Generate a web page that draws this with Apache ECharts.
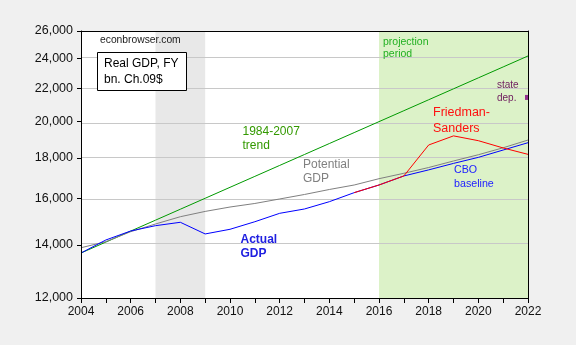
<!DOCTYPE html>
<html>
<head>
<meta charset="utf-8">
<script src="https://cdn.jsdelivr.net/npm/echarts@6/dist/echarts.min.js"></script>
<style>
  html, body { margin: 0; padding: 0; background: #f0f0f0; }
  #chart { width: 576px; height: 345px; }
</style>
</head>
<body>
<div id="chart"></div>
<script>
// Fiscal years on the horizontal axis
const years = [2004, 2005, 2006, 2007, 2008, 2009, 2010, 2011, 2012, 2013, 2014,
               2015, 2016, 2017, 2018, 2019, 2020, 2021, 2022];
const actualYears = years.slice(0, 12);      // 2004-2015
const projYears = years.slice(11);           // 2015-2022

// Real GDP, bn. chained 2009 dollars
const actualGdp = [13670, 14195, 14570, 14796, 14942, 14446, 14642, 14966, 15335, 15529, 15860, 16280];
const potentialGdp = [13880, 14125, 14540, 14868, 15185, 15420, 15617, 15778, 15985, 16195, 16430,
                      16645, 16952, 17220, 17510, 17845, 18170, 18540, 18960];
const trend8407 = [13670, 14110, 14565, 15034, 15518, 16018, 16534, 17066, 17616, 18183, 18769,
                   19373, 19997, 20641, 21306, 21992, 22700, 23431, 24186];
const cboBaseline = [16280, 16646, 17087, 17390, 17720, 18032, 18420, 18815];
const friedmanSanders = [16280, 16646, 17087, 18690, 19190, 18925, 18530, 18190];
const stateDep = [[2022, 21450]];

// Shaded periods
const recession = [2007, 2009];
const projection = [2016, 2022];

// Log-scale tick labels
const yTicks = [12000, 14000, 16000, 18000, 20000, 22000, 24000, 26000];
const xMin = 2004, xMax = 2022;

const FONT = '"Liberation Sans", Arial, sans-serif';
const ln = Math.log;
const pairs = (xs, vs) => xs.map((x, i) => [x, ln(vs[i])]);

const chart = echarts.init(document.getElementById('chart'), null, { renderer: 'canvas' });

function lineSeries(name, xs, vs, color) {
  return {
    name, type: 'line', data: pairs(xs, vs), symbol: 'none', z: 2,
    lineStyle: { color, width: 1 }, silent: true
  };
}

function txt(text, x, y, size, color, weight) {
  return {
    type: 'text', x, y, silent: true, z: 10,
    style: {
      text, fill: color, font: (weight || 'normal') + ' ' + size + 'px ' + FONT,
      align: 'left', verticalAlign: 'middle'
    }
  };
}

const option = {
  animation: false,
  backgroundColor: '#f0f0f0',
  grid: {
    left: 81, right: 48, top: 31, bottom: 47,
    show: true, backgroundColor: '#ffffff', borderWidth: 0
  },
  xAxis: [{
    type: 'value', min: xMin, max: xMax, interval: 1, z: 5,
    axisLine: { show: true, lineStyle: { color: '#000', width: 1 } },
    axisTick: { show: true, length: 5, lineStyle: { color: '#000' } },
    axisLabel: {
      color: '#111', fontFamily: FONT, fontSize: 12, margin: 8,
      showMinLabel: true, showMaxLabel: true,
      formatter: v => (v % 2 === 0 ? String(v) : '')
    },
    splitLine: { show: false }
  }, {
    // top frame
    type: 'value', position: 'top', min: xMin, max: xMax, z: 5,
    axisLine: { show: true, onZero: false, lineStyle: { color: '#000', width: 1 } },
    axisTick: { show: false }, axisLabel: { show: false }, splitLine: { show: false }
  }],
  yAxis: [{
    type: 'value', min: ln(12000), max: ln(26000), z: 5,
    axisLine: { show: true, onZero: false, lineStyle: { color: '#000', width: 1 } },
    axisTick: { show: true, length: 4, lineStyle: { color: '#000' }, customValues: yTicks.map(ln) },
    axisLabel: {
      color: '#111', fontFamily: FONT, fontSize: 12.5, margin: 8,
      customValues: yTicks.map(ln),
      formatter: v => Math.round(Math.exp(v)).toLocaleString('en-US')
    },
    splitLine: { show: false }
  }, {
    // right frame
    type: 'value', position: 'right', min: ln(12000), max: ln(26000), z: 5,
    axisLine: { show: true, onZero: false, lineStyle: { color: '#000', width: 1 } },
    axisTick: { show: false }, axisLabel: { show: false }, splitLine: { show: false }
  }],
  series: [
    {
      name: 'periods', type: 'line', data: [], silent: true, z: 1,
      markArea: {
        silent: true, z: 1,
        data: [
          [{ xAxis: recession[0], itemStyle: { color: '#e8e8e8' } }, { xAxis: recession[1] }],
          [{ xAxis: projection[0], itemStyle: { color: '#dcf2c8' } }, { xAxis: projection[1] }]
        ]
      },
      markLine: {
        silent: true, z: 1.5, symbol: 'none', label: { show: false },
        lineStyle: { color: '#c8c8c8', width: 1, type: 'solid' },
        data: yTicks.map(t => ({ yAxis: ln(t) }))
      }
    },
    lineSeries('1984-2007 trend', years, trend8407, '#009a00'),
    lineSeries('Potential GDP', years, potentialGdp, '#808080'),
    lineSeries('CBO baseline', projYears, cboBaseline, '#0000ff'),
    lineSeries('Actual GDP', actualYears, actualGdp, '#0000ff'),
    lineSeries('Friedman-Sanders', projYears, friedmanSanders, '#ff0000'),
    {
      name: 'state dep.', type: 'scatter', symbol: 'rect', symbolSize: [3, 5], symbolOffset: [-1.5, 0],
      data: stateDep.map(d => [d[0], ln(d[1])]), itemStyle: { color: '#800080' }, z: 3, silent: true
    }
  ],
  graphic: [
    txt('econbrowser.com', 100, 40, 10.3, '#1a1a1a'),
    {
      type: 'rect', z: 9, silent: true,
      shape: { x: 97.5, y: 52.5, width: 89, height: 38 },
      style: { fill: '#ffffff', stroke: '#000', lineWidth: 1 }
    },
    txt('Real GDP, FY', 104, 63.5, 12, '#000'),
    txt('bn. Ch.09$', 104, 79.5, 12, '#000'),
    txt('projection', 383, 42, 10.5, '#22b022'),
    txt('period', 383, 54.5, 10.5, '#22b022'),
    txt('state', 497, 85, 10, '#702060'),
    txt('dep.', 497, 98, 10, '#702060'),
    txt('Friedman-', 433, 113, 12.5, '#ff1010'),
    txt('Sanders', 433, 128.5, 12.5, '#ff1010'),
    txt('1984-2007', 242.5, 131.5, 12, '#339900'),
    txt('trend', 242.5, 146, 12, '#339900'),
    txt('Potential', 303, 164.5, 12, '#808080'),
    txt('GDP', 303, 179, 12, '#808080'),
    txt('Actual', 240.5, 239.5, 12, '#2020e0', 'bold'),
    txt('GDP', 240.5, 254, 12, '#2020e0', 'bold'),
    txt('CBO', 454, 170, 10.7, '#2020ff'),
    txt('baseline', 454, 184, 10.7, '#2020ff')
  ]
};

chart.setOption(option);
</script>
</body>
</html>
